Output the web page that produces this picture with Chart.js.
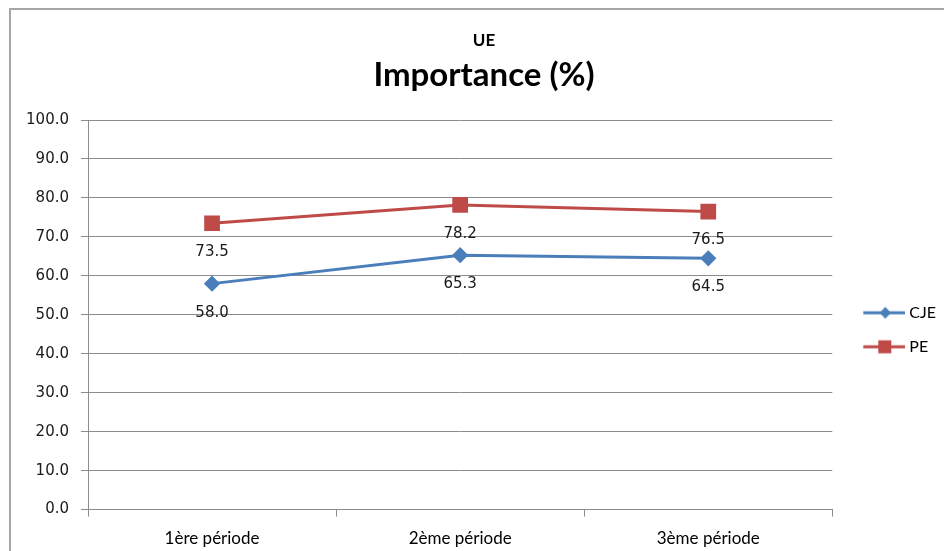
<!DOCTYPE html>
<html>
<head>
<meta charset="utf-8">
<script src="https://cdn.jsdelivr.net/npm/chart.js@4.4.1/dist/chart.umd.min.js"></script>
<style>
  html, body { margin: 0; padding: 0; background: #fff; overflow: hidden; }
  #frame { position: absolute; left: 9px; top: 8px; width: 960px; height: 560px; border-left: 2px solid #a6a6a6; border-top: 2px solid #a6a6a6; }
  #wrap { position: absolute; left: 0; top: 0; width: 944px; height: 551px; }
</style>
</head>
<body>
<div id="frame"></div>
<div id="wrap"><canvas id="c" width="944" height="551"></canvas></div>
<script>
const categories = ['1ère période', '2ème période', '3ème période'];
const seriesNames = ['CJE', 'PE'];
const cjeValues = [58.0, 65.3, 64.5];
const peValues = [73.5, 78.2, 76.5];
const chartTitle = 'UE';
const chartSubtitle = 'Importance (%)';
const yTicks = [0, 10, 20, 30, 40, 50, 60, 70, 80, 90, 100];

const BLUE = '#4a7ebb';
const RED = '#be4b48';
const GRID = '#8c8c8c';
const LABEL_FONT = '"DejaVu Sans", Verdana, sans-serif';
const CAT_FONT = 'Lato, "Open Sans", sans-serif';

function legendIcon(color, style) {
  const cv = document.createElement('canvas');
  cv.width = 59; cv.height = 16;
  const g = cv.getContext('2d');
  g.strokeStyle = color; g.lineWidth = 3;
  g.beginPath(); g.moveTo(17, 8); g.lineTo(59, 8); g.stroke();
  g.fillStyle = color;
  g.beginPath();
  if (style === 'diamond') {
    g.moveTo(39, 2); g.lineTo(44.5, 8); g.lineTo(39, 14); g.lineTo(33.5, 8); g.closePath();
  } else {
    g.rect(32, 1.5, 13, 13);
  }
  g.fill();
  return cv;
}
const icons = [legendIcon(BLUE, 'diamond'), legendIcon(RED, 'square')];

const dataLabels = {
  id: 'dataLabels',
  afterDatasetsDraw(chart) {
    const ctx = chart.ctx;
    ctx.save();
    ctx.font = '15px ' + LABEL_FONT;
    ctx.fillStyle = '#1a1a1a';
    ctx.textAlign = 'center';
    ctx.textBaseline = 'middle';
    chart.data.datasets.forEach((ds, di) => {
      const meta = chart.getDatasetMeta(di);
      meta.data.forEach((pt, i) => {
        ctx.fillText(ds.data[i].toFixed(1), pt.x, pt.y + 29);
      });
    });
    ctx.restore();
  }
};

new Chart(document.getElementById('c'), {
  type: 'line',
  data: {
    labels: categories,
    datasets: [
      { label: seriesNames[0], data: cjeValues, borderColor: BLUE, backgroundColor: BLUE,
        borderWidth: 3, pointStyle: 'rectRot', pointRadius: 6, pointHoverRadius: 6, tension: 0 },
      { label: seriesNames[1], data: peValues, borderColor: RED, backgroundColor: RED,
        borderWidth: 3, pointStyle: 'rect', pointRadius: 9, pointHoverRadius: 9, tension: 0 }
    ]
  },
  options: {
    responsive: false,
    animation: false,
    events: [],
    layout: { padding: { left: 22, right: -2, top: 0, bottom: -10 } },
    plugins: {
      title: { display: true, text: chartTitle, color: '#000',
        font: { family: CAT_FONT, size: 17, weight: 'bold' }, padding: { top: 30, bottom: 5 } },
      subtitle: { display: true, text: chartSubtitle, color: '#000',
        font: { family: CAT_FONT, size: 33, weight: 'bold' }, padding: { top: 0, bottom: 25 } },
      legend: {
        position: 'right',
        fullSize: false,
        title: { display: true, text: ' ', font: { size: 10 }, padding: { top: 18, bottom: 0 } },
        labels: {
          usePointStyle: true, pointStyleWidth: 51, boxHeight: 16,
          color: '#000', font: { family: CAT_FONT, size: 16 }, padding: 18,
          generateLabels(chart) {
            const items = Chart.defaults.plugins.legend.labels.generateLabels(chart);
            items.forEach((it, i) => { it.pointStyle = icons[i]; });
            return items;
          }
        }
      },
      tooltip: { enabled: false }
    },
    scales: {
      x: {
        offset: true,
        grid: { offset: true, drawOnChartArea: false, color: GRID, tickLength: 7 },
        border: { color: GRID, width: 1 },
        ticks: { color: '#000', font: { family: CAT_FONT, size: 17 }, padding: 12 }
      },
      y: {
        min: 0, max: 100,
        afterBuildTicks(scale) { scale.ticks = yTicks.map(v => ({ value: v })); },
        afterFit(scale) { scale.width = 66; },
        grid: { color: GRID, tickLength: 7 },
        border: { color: GRID, width: 1 },
        ticks: { color: '#1a1a1a', font: { family: LABEL_FONT, size: 15 }, padding: 12,
          callback: v => Number(v).toFixed(1) }
      }
    }
  },
  plugins: [dataLabels]
});
</script>
</body>
</html>
